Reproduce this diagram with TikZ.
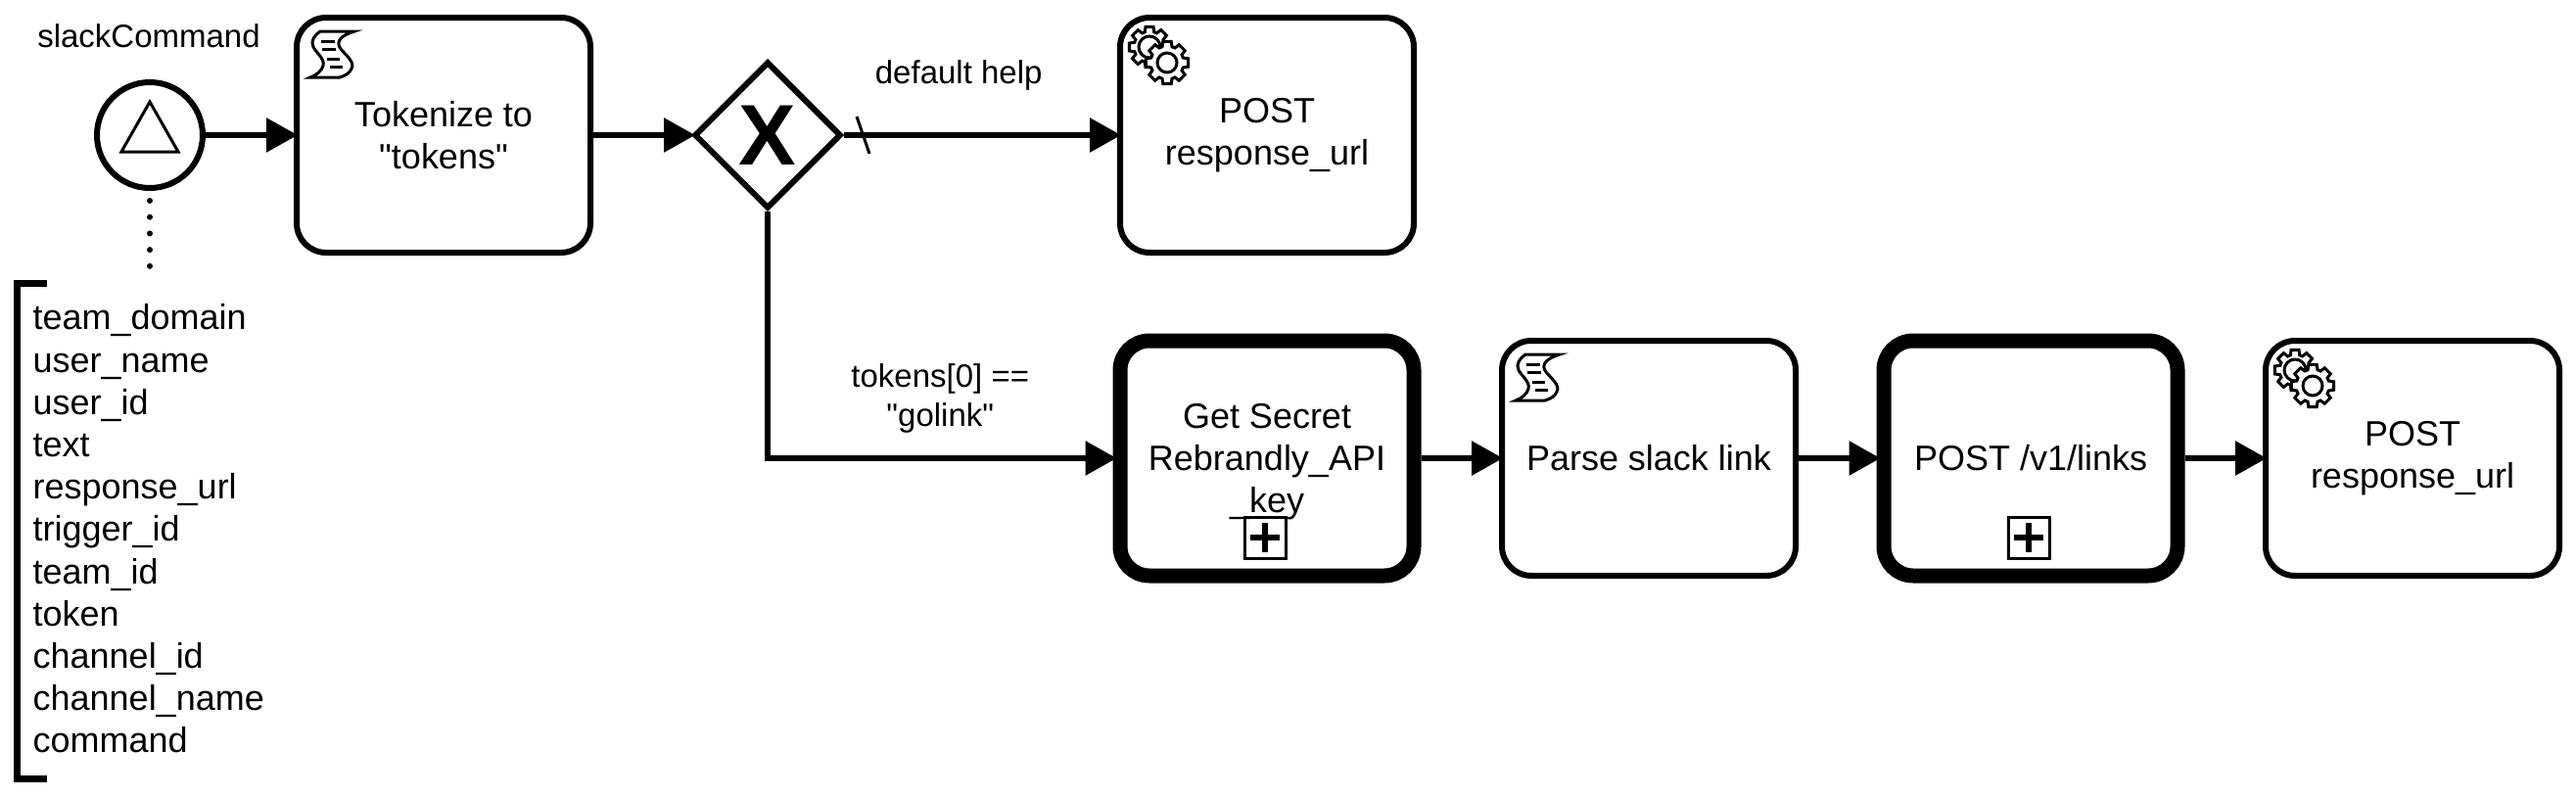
\documentclass[tikz,border=0pt]{standalone}
\usepackage{fontspec}
\setmainfont{Liberation Sans}
\newfontfamily\quotefont{Liberation Sans}
\usetikzlibrary{arrows.meta,shapes.geometric}
\newcommand{\gearwheel}[4]{
	\begin{scope}[shift={(#1,#2)}]
		\draw [line width=0.03cm, fill=white] (-11:#3) \foreach \ang in {0,45,...,315} {
				-- (\ang-11:#3) -- (\ang+11:#3) -- (\ang+17:#3-0.05) -- (\ang+28:#3-0.05)} -- cycle;
		\draw [line width=0.03cm] (0,0) circle (#4);
	\end{scope}
}
\tikzset{
	task/.style={
			draw, line width=0.06cm, fill=white, rounded corners=0.3cm, align=center, inner sep=0pt,
			minimum width=3cm, minimum height=2.4cm, font=\fontsize{10.24}{12.29}\selectfont
		},
	subtask/.style={task, line width=0.15cm},
	flow/.style={-{Triangle[length=0.32cm,width=0.34cm]}, line width=0.06cm, shorten >=-0.04cm},
	flowlabel/.style={inner sep=0pt, align=center, font=\fontsize{9.39}{11.27}\selectfont},
	scripticon/.pic={
			\draw [line width=0.03cm, fill=white] (0.10,0) .. controls (0.04,-0.04) and (0,-0.10) .. (0.03,-0.16)
				.. controls (0.06,-0.22) and (0.15,-0.28) .. (0.13,-0.35)
				.. controls (0.12,-0.40) and (0.06,-0.45) .. (0,-0.47) -- (0.30,-0.47)
				.. controls (0.36,-0.45) and (0.40,-0.43) .. (0.42,-0.38)
				.. controls (0.46,-0.32) and (0.36,-0.24) .. (0.31,-0.18)
				.. controls (0.25,-0.10) and (0.32,-0.04) .. (0.45,0) -- cycle;
			\draw [line width=0.03cm] (0.11,-0.10) -- (0.25,-0.10) (0.12,-0.18) -- (0.26,-0.18)
				(0.17,-0.28) -- (0.30,-0.28) (0.20,-0.36) -- (0.33,-0.36);
		},
	gearicon/.pic={
			\gearwheel{0.33}{-0.33}{0.21}{0.11}
			\gearwheel{0.51}{-0.49}{0.22}{0.10}
		},
	plusmark/.pic={
			\node (-box) [draw, line width=0.03cm, minimum size=0.42cm, inner sep=0pt] {};
			\draw [line width=0.06cm] (-0.15,0) -- (0.15,0) (0,-0.15) -- (0,0.15);
		}
}

\begin{document}
\begin{tikzpicture}
	\useasboundingbox (0,0) rectangle (26.31,8.13);
	\node (start) [draw, circle, line width=0.06cm, minimum size=1.08cm, inner sep=0pt] at (1.53,6.75) {};
	\draw [line width=0.03cm] ([shift={(-0.29,-0.17)}]start.center) -- ([shift={(0.29,-0.17)}]start.center)
		-- ([shift={(0,0.34)}]start.center) -- cycle;
	\node (startlabel) [flowlabel] at (1.52,7.76) {slackCommand};

	\node (tokenize) [task] at (4.53,6.75) {Tokenize to\\{\quotefont"tokens"}};
	\node (gate) [draw, diamond, line width=0.06cm, minimum size=1.5cm, inner sep=0pt,
		font=\fontsize{25}{25}\selectfont\bfseries] at (7.84,6.75) {X};
	\node (helppost) [task] at (12.94,6.75) {POST\\response\_url};

	\node (secret) [subtask] at (12.94,3.45) {\rule{0pt}{0.33cm}Get Secret\\Rebrandly\_API\\\_key};
	\node (parse) [task] at (16.84,3.45) {Parse slack link};
	\node (links) [subtask] at (20.74,3.45) {POST /v1/links};
	\node (reply) [task] at (24.64,3.45) {POST\\response\_url};

	\pic at ([shift={(0.17,-0.17)}]tokenize.north west) {scripticon};
	\pic at ([shift={(0.17,-0.17)}]parse.north west) {scripticon};
	\pic at (helppost.north west) {gearicon};
	\pic at (reply.north west) {gearicon};
	\pic (secretplus) at ([shift={(-0.02,-0.81)}]secret.center) {plusmark};
	\pic (linksplus) at ([shift={(-0.02,-0.81)}]links.center) {plusmark};

	\draw [flow] (start) -- (tokenize);
	\draw [flow] (tokenize) -- (gate);
	\draw [flow] (gate) -- (helppost) node[flowlabel, pos=0.42, above=0.43cm]{default help};
	\draw [flow] (gate) |- (secret) node[flowlabel, pos=0.75, above=0.23cm]{tokens[0] ==\\{\quotefont"golink"}};
	\draw [flow] (secret) -- (parse);
	\draw [flow] (parse) -- (links);
	\draw [flow] (links) -- (reply);
	\draw [line width=0.03cm] ([shift={(0.91,0.19)}]gate.center) -- ([shift={(1.04,-0.19)}]gate.center);

	\node (params) [anchor=west, inner sep=0pt, align=left, font=\fontsize{10.24}{12.29}\selectfont] at (0.33,2.73) {team\_domain\\user\_name\\user\_id\\text\\response\_url\\trigger\_id\\team\_id\\token\\channel\_id\\channel\_name\\command};
	\coordinate (assocend) at (1.53,5.39);
	\draw [line width=0.06cm, line cap=round, dash pattern=on 0pt off 0.167cm, shorten <=0.1cm] (start) -- (assocend);
	\draw [line width=0.07cm] (0.48,5.24) -- (0.18,5.24) -- (0.18,0.18) -- (0.48,0.18);
\end{tikzpicture}
\end{document}
